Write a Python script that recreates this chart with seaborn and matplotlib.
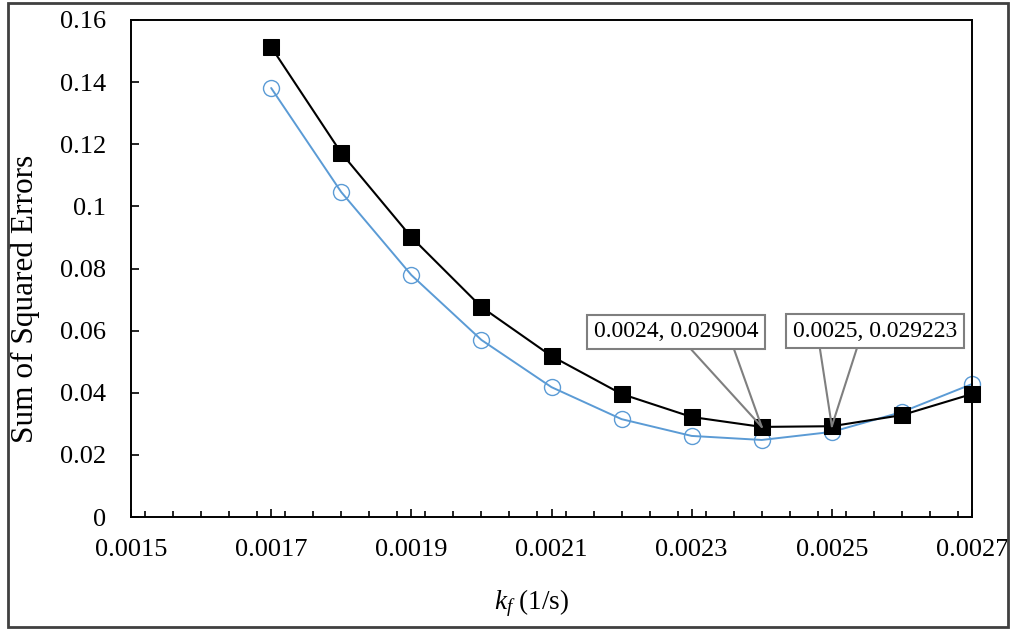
import matplotlib
matplotlib.use("Agg")
import matplotlib.pyplot as plt
import seaborn as sns
import pandas as pd
import numpy as np
from matplotlib.patches import Rectangle
from matplotlib.ticker import MultipleLocator

# ---- data ----
kf = [0.0017, 0.0018, 0.0019, 0.0020, 0.0021, 0.0022, 0.0023, 0.0024, 0.0025, 0.0026, 0.0027]
sse_black = [0.1513, 0.1172, 0.0901, 0.0676, 0.0518, 0.0396, 0.0322, 0.029004, 0.029223, 0.0328, 0.0396]
sse_blue = [0.1381, 0.1046, 0.0779, 0.0570, 0.0418, 0.0315, 0.0261, 0.0248, 0.0274, 0.0338, 0.0428]
x_ticks = [0.0015, 0.0017, 0.0019, 0.0021, 0.0023, 0.0025, 0.0027]
x_tick_labels = ["0.0015", "0.0017", "0.0019", "0.0021", "0.0023", "0.0025", "0.0027"]
y_ticks = [0, 0.02, 0.04, 0.06, 0.08, 0.10, 0.12, 0.14, 0.16]
y_tick_labels = ["0", "0.02", "0.04", "0.06", "0.08", "0.1", "0.12", "0.14", "0.16"]
annot_points = [(0.0024, 0.029004), (0.0025, 0.029223)]
annot_labels = ["0.0024, 0.029004", "0.0025, 0.029223"]

sns.set_theme(style="white")
plt.rcParams["font.family"] = ["Liberation Serif", "DejaVu Serif"]
plt.rcParams["mathtext.fontset"] = "custom"
plt.rcParams["mathtext.rm"] = "Liberation Serif"
plt.rcParams["mathtext.it"] = "Liberation Serif:italic"

df_blue = pd.DataFrame({"kf": kf, "sse": sse_blue})
df_black = pd.DataFrame({"kf": kf, "sse": sse_black})

fig = plt.figure(figsize=(10.13, 6.30), dpi=100)
ax = fig.add_axes([131 / 1013, 1 - 517 / 630, (972 - 131) / 1013, (517 - 20) / 630])

blue = "#5B9BD5"
sns.lineplot(data=df_blue, x="kf", y="sse", ax=ax, color=blue, lw=1.4,
             marker="o", markersize=11.5, markerfacecolor="none",
             markeredgecolor=blue, markeredgewidth=1.0, zorder=3, clip_on=False)
sns.lineplot(data=df_black, x="kf", y="sse", ax=ax, color="black", lw=1.5,
             marker="s", markersize=11, markerfacecolor="black",
             markeredgecolor="black", zorder=4, clip_on=False)

ax.set_xlim(0.0015, 0.0027)
ax.set_ylim(0, 0.16)
ax.set_xticks(x_ticks)
ax.set_xticklabels(x_tick_labels)
ax.xaxis.set_minor_locator(MultipleLocator(0.00004))
ax.set_yticks(y_ticks)
ax.set_yticklabels(y_tick_labels)

ax.tick_params(axis="both", which="major", direction="in", length=6, width=1.2,
               color="black", labelsize=19, labelcolor="black")
ax.tick_params(axis="x", which="major", pad=16)
ax.tick_params(axis="y", which="major", pad=18)
ax.tick_params(axis="x", which="minor", direction="in", length=4.2, width=1.2,
               color="black", bottom=True)
ax.tick_params(bottom=True, left=True)

for s in ax.spines.values():
    s.set_visible(True)
    s.set_color("black")
    s.set_linewidth(1.4)
    s.set_zorder(6)

ax.set_xlabel(r"$k_f$ (1/s)", fontsize=19.5, color="black")
ax.xaxis.set_label_coords((532 - 131) / (972 - 131), -(603 - 517) / (517 - 20))
ax.xaxis.label.set_va("center")
ax.set_ylabel("Sum of Squared Errors", fontsize=22.5, color="black")
ax.yaxis.set_label_coords(-(131 - 25) / (972 - 131), (517 - 299) / (517 - 20))
ax.yaxis.label.set_va("center")

# annotations with leader lines
box_off = [(-61.5, 68.5), (31, 68.5)]
leader_off = [[(-51, 56), (-20, 56)], [(-8.6, 56), (18, 56)]]
grey = "#7f7f7f"
for (pt, lab, bo, lo) in zip(annot_points, annot_labels, box_off, leader_off):
    for off in lo:
        ax.annotate("", xy=pt, xytext=off, textcoords="offset points",
                    arrowprops=dict(arrowstyle="-", color=grey, lw=1.5,
                                    shrinkA=0, shrinkB=0), zorder=5)
    ax.annotate(lab, xy=pt, xytext=bo, textcoords="offset points",
                ha="center", va="center", fontsize=17, color="black",
                bbox=dict(boxstyle="square,pad=0.28", fc="white", ec=grey, lw=1.5),
                zorder=7)

# chart-area border
fig.patches.append(Rectangle((8 / 1013, 3 / 630), (1008 - 8) / 1013, (627 - 3) / 630,
                             transform=fig.transFigure, fill=False,
                             edgecolor="#404040", lw=2))

fig.savefig("out.png", dpi=100)
